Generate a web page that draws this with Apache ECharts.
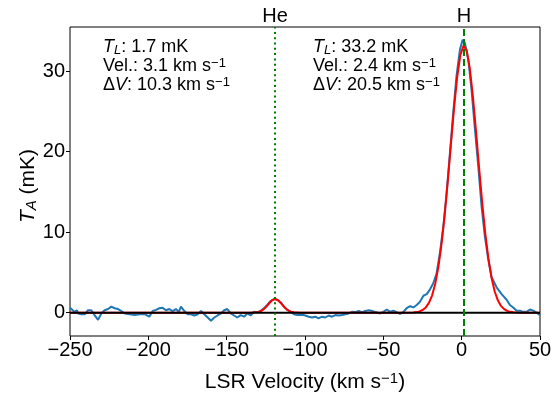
<!DOCTYPE html>
<html>
<head>
<meta charset="utf-8">
<script src="https://cdn.jsdelivr.net/npm/echarts@6/dist/echarts.min.js"></script>
<style>
html,body{margin:0;padding:0;background:#fff;}
#chart{width:558px;height:394px;}
</style>
</head>
<body>
<div id="chart"></div>
<script>
// Observed spectrum (LSR velocity, km/s ; antenna temperature, mK)
const velocity = [-250,-249.4,-247.2,-245.5,-244.9,-242.8,-240.6,-238.5,-236.4,-234.3,-232.1,-230,-227.9,-225.7,-223.6,-221.5,-219.3,-217.2,-215.1,-211.9,-208.7,-205.5,-202,-199.4,-197.2,-195.1,-193,-190.9,-188.7,-186.6,-184.5,-182.4,-180.5,-179.2,-177,-174.9,-172.8,-170.6,-168.5,-166.4,-164.3,-162.1,-160,-157.9,-155.8,-153.6,-151.6,-149.6,-147.4,-145.3,-143.2,-141.1,-138.9,-136.8,-134.7,-132.6,-130.4,-128.3,-126.2,-124.1,-121.9,-119.8,-117.7,-115.5,-113.4,-111.3,-109.2,-107,-104.9,-101.8,-99.8,-97.6,-95.5,-93.4,-91.3,-89.1,-87,-84.9,-82.8,-80.6,-78.5,-76.4,-74.2,-72.1,-70,-67.9,-65.7,-63.6,-61.5,-59.3,-57.2,-55.1,-52.1,-50,-47.8,-45.7,-43.6,-41.5,-39.3,-37.2,-35.1,-32.9,-30.8,-28.7,-26.6,-24.4,-22.3,-20.2,-18.1,-16,-13.9,-11.7,-9.6,-7.5,-5.4,-3.3,-1.1,0.6,2.1,4.2,6.3,8.5,10.6,12.7,14.8,17,19.1,22.3,25.5,28.7,30.8,32.9,35.1,37.2,39.3,41.5,43.6,45.7,47.8,50];
const temperature = [0.6,0.5,0.1,0.3,-0.1,-0.2,-0.2,0.3,0.3,-0.3,-0.9,-0.1,0.3,0.45,0.75,0.55,0.45,0.2,-0.1,-0.2,-0.3,-0.2,-0.2,-0.5,0.2,0.35,0.55,0.6,0.3,0.45,0.2,0.45,0.1,0.75,0.2,-0.2,-0.2,-0.35,-0.2,0.2,-0.2,-0.6,-1.0,-0.6,-0.35,-0.1,0.3,0.45,-0.1,-0.35,-0.6,-0.3,-0.5,-0.1,-0.35,0.1,0.05,0.2,0.55,0.95,1.45,1.7,1.6,1.3,0.75,0.35,0.1,-0.2,-0.3,-0.25,-0.35,-0.5,-0.6,-0.5,-0.7,-0.5,-0.6,-0.35,-0.5,-0.3,-0.35,-0.3,-0.2,-0.1,0.1,0.05,0.2,0.05,0.2,0.3,0.2,0.1,-0.1,0.1,0.4,0.1,0.25,0.05,-0.15,0.1,0.55,0.8,0.65,0.95,1.35,2.1,2.3,2.9,3.65,4.9,7.4,10.7,14.9,19.8,24.8,29.4,32.7,33.9,33.5,31.5,27.7,22.7,18.2,13.2,9.5,6.6,4.4,3.15,2.3,1.6,0.95,0.65,0.25,0.25,0.1,0.1,0.4,0.25,0.0,-0.3];

// Fitted model
const fitVelocity = [-250,-135,-131,-129,-127,-125,-123,-121,-119,-117,-115,-113,-111,-109,-107,-103,-40,-30.9,-28.9,-26.9,-24.9,-22.9,-20.9,-18.9,-16.9,-14.9,-12.9,-10.9,-8.9,-6.9,-4.9,-2.9,-0.9,1.1,3.1,5.1,7.1,9.1,11.1,13.1,15.1,17.1,19.1,21.1,23.1,25.1,27.1,29.1,31.1,33.1,35.1,40,50];
const fitTemperature = [0,0,0.04,0.13,0.33,0.68,1.14,1.54,1.7,1.51,1.09,0.64,0.31,0.12,0.04,0,0,0.03,0.07,0.16,0.33,0.65,1.21,2.13,3.56,5.63,8.46,12.04,16.27,20.85,25.34,29.22,31.96,33.16,32.64,30.48,27.0,22.68,18.07,13.67,9.8,6.67,4.3,2.63,1.53,0.84,0.44,0.22,0.1,0.05,0.02,0,0];

// Line markers
const lineNames = ['He', 'H'];
const lineVelocities = [-119.1, 1.5];

// Axis ticks
const xTicks = [-250, -200, -150, -100, -50, 0, 50];
const yTicks = [0, 10, 20, 30];

// Fit annotations
const heFit = {TL: '1.7', vel: '3.1', dv: '10.3'};
const hFit = {TL: '33.2', vel: '2.4', dv: '20.5'};

const FONT = '"Liberation Sans", Arial, Helvetica, sans-serif';
const FS = 18;   // annotation text
const TFS = 20;  // tick labels
const LFS = 21;  // axis titles

function richSet(fs, lh) {
  const sfs = Math.round(fs * 0.7);
  return {
    n: {fontSize: fs, fontFamily: FONT, color: '#000', lineHeight: lh},
    i: {fontSize: fs, fontFamily: FONT, fontStyle: 'italic', color: '#000', lineHeight: lh},
    sub: {fontSize: sfs, fontFamily: FONT, fontStyle: 'italic', color: '#000', lineHeight: Math.round(fs * 0.38), verticalAlign: 'bottom'},
    sup: {fontSize: sfs, fontFamily: FONT, color: '#000', lineHeight: Math.round(fs * 0.38), verticalAlign: 'top'}
  };
}
const rich = richSet(FS, 19);
const labelRich = richSet(LFS, 22);
const tickRich = {n: {fontSize: TFS, fontFamily: FONT, color: '#000'}};
const fmtTick = v => '{n|' + String(v).replace('-', '\u2212') + '}';

function fitText(f) {
  return '{i|T}{sub|L}{n|: ' + f.TL + ' mK}\n' +
         '{n|Vel.: ' + f.vel + ' km s}{sup|\u22121}\n' +
         '{n|\u0394}{i|V}{n|: ' + f.dv + ' km s}{sup|\u22121}';
}

const chart = echarts.init(document.getElementById('chart'), null, {renderer: 'canvas'});
const spectrum = velocity.map((v, k) => [v, temperature[k]]);
const fit = fitVelocity.map((v, k) => [v, fitTemperature[k]]);

chart.setOption({
  animation: false,
  backgroundColor: '#fff',
  grid: {left: 70, right: 18, top: 27, bottom: 58, show: true, borderColor: '#000', borderWidth: 1, backgroundColor: 'transparent'},
  xAxis: {
    type: 'value', min: -250, max: 50, interval: 50,
    axisLine: {show: false, onZero: false},
    axisTick: {show: true, length: 4, inside: false, lineStyle: {color: '#000', width: 1}},
    axisLabel: {margin: 4, formatter: fmtTick, rich: tickRich, customValues: xTicks},
    splitLine: {show: false}
  },
  yAxis: {
    type: 'value', min: -2.9, max: 35.5,
    axisLine: {show: false, onZero: false},
    axisTick: {show: true, length: 4, lineStyle: {color: '#000', width: 1}, customValues: yTicks},
    axisLabel: {margin: 5, formatter: fmtTick, rich: tickRich, customValues: yTicks},
    splitLine: {show: false}
  },
  series: [
    {
      type: 'line', data: spectrum, showSymbol: false, symbol: 'none',
      lineStyle: {color: '#1f77b4', width: 2}, z: 2
    },
    {
      type: 'line', data: fit, showSymbol: false, symbol: 'none',
      lineStyle: {color: '#ff0000', width: 2}, z: 3,
      markLine: {
        silent: true, symbol: ['none', 'none'],
        data: [
          {xAxis: lineVelocities[0], name: lineNames[0], lineStyle: {type: [2, 3.3], color: '#008000', width: 2}},
          {xAxis: lineVelocities[1], name: lineNames[1], lineStyle: {type: [7, 3], color: '#008000', width: 2}}
        ],
        label: {show: true, position: 'end', formatter: p => p.name, color: '#000', fontSize: 20, fontFamily: FONT, distance: 1}
      }
    },
    {
      type: 'line', data: [[-250, 0], [50, 0]], showSymbol: false, symbol: 'none',
      lineStyle: {color: '#000', width: 2}, z: 4
    }
  ],
  graphic: [
    {type: 'text', left: 103, top: 38, style: {text: fitText(heFit), rich: rich}},
    {type: 'text', left: 313, top: 38, style: {text: fitText(hFit), rich: rich}},
    {type: 'text', x: 305, y: 382, style: {
      text: '{n|LSR Velocity (km s}{sup|\u22121}{n|)}', rich: labelRich, align: 'center', verticalAlign: 'middle'}},
    {type: 'text', x: 28, y: 186, rotation: Math.PI / 2, style: {
      text: '{i|T}{sub|A}{n| (mK)}', rich: labelRich, align: 'center', verticalAlign: 'middle'}}
  ]
});
</script>
</body>
</html>
